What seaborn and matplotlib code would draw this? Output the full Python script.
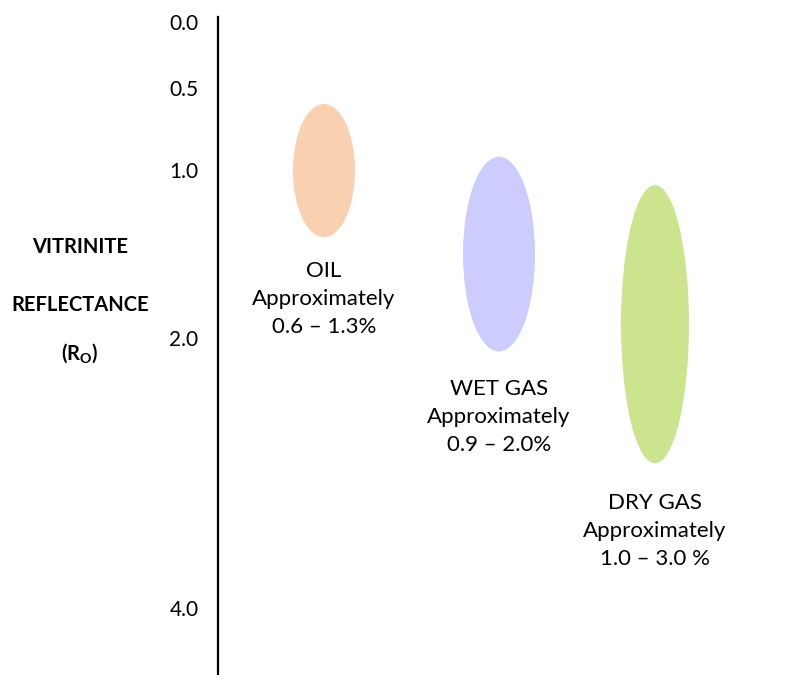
import numpy as np
import seaborn as sns
from matplotlib import pyplot as plt
from matplotlib.patches import Ellipse

# maturity windows, vitrinite reflectance Ro (%)
zones = ["OIL", "WET GAS", "DRY GAS"]
ro_top = [0.6, 0.92, 1.09]
ro_bottom = [1.4, 2.1, 2.93]
range_labels = ["0.6 – 1.3%", "0.9 – 2.0%", "1.0 – 3.0 %"]
zone_colors = ["#F9D0B0", "#CCCCFF", "#CCE48D"]

# y ticks, the diagram spaces them unevenly
ro_ticks = [0.0, 0.5, 1.0, 2.0, 4.0]
tick_labels = ["0.0", "0.5", "1.0", "2.0", "4.0"]

# scale knots: Ro value -> depth on the page
ro_knots = [-0.2, 0.0, 0.5, 1.0, 2.0, 4.0, 5.0]
depth_knots = [-26.4, 0.0, 66.0, 148.5, 316.5, 586.0, 720.75]

# layout of the ovals and their captions across the page
x_centers = [324, 499, 655]
widths = [62, 72, 68]
caption_gap = [62, 66, 68]


def ro_to_depth(v):
    return np.interp(v, ro_knots, depth_knots)


def depth_to_ro(d):
    return np.interp(d, depth_knots, ro_knots)


sns.set_theme(style="white")
plt.rcParams['font.family'] = ['Lato', 'DejaVu Sans']
plt.rcParams['mathtext.fontset'] = 'custom'
plt.rcParams['mathtext.rm'] = 'Lato'
plt.rcParams['mathtext.bf'] = 'Lato:bold'

fig = plt.figure(figsize=(7.97, 6.75), dpi=100)
ax = fig.add_axes([0, 0, 1, 1])
ax.set_yscale('function', functions=(ro_to_depth, depth_to_ro))
ax.set_xlim(0, 797)
ax.set_ylim(depth_to_ro(653.5), depth_to_ro(-21.5))

sns.despine(ax=ax, top=True, right=True, bottom=True)
ax.spines['left'].set_position(('data', 218))
ax.spines['left'].set_color('black')
ax.spines['left'].set_linewidth(1.6)
ax.spines['left'].set_bounds(depth_to_ro(653.5), depth_to_ro(-4.5))

ax.set_xticks([])
ax.set_yticks(ro_ticks)
ax.set_yticklabels(tick_labels)
ax.tick_params(axis='y', length=0, pad=14, labelsize=15, labelcolor='black')
ax.grid(False)

# ovals are drawn in scaled space so they stay symmetric on the page
scale = ax.yaxis.get_transform()
page = ax.transLimits + ax.transAxes
for i, zone in enumerate(zones):
    top, bot = scale.transform(np.array([ro_top[i], ro_bottom[i]]))
    ax.add_patch(Ellipse((x_centers[i], (top + bot) / 2), widths[i], bot - top,
                         transform=page, facecolor=zone_colors[i], edgecolor='none'))
    ax.annotate(f"{zone}\nApproximately\n{range_labels[i]}",
                xy=(x_centers[i], ro_bottom[i]), xytext=(0, -caption_gap[i]),
                textcoords='offset pixels', ha='center', va='center',
                fontsize=16, linespacing=1.5, color='black')

ax.text(0.1, 1 - 247 / 675, "VITRINITE", transform=ax.transAxes,
        ha='center', va='center', fontsize=14.5, fontweight='bold', color='black')
ax.text(0.1, 1 - 305 / 675, "REFLECTANCE", transform=ax.transAxes,
        ha='center', va='center', fontsize=14.5, fontweight='bold', color='black')
ax.text(0.1, 1 - 353 / 675, r"(R$_{\mathbf{O}}$)", transform=ax.transAxes,
        ha='center', va='center', fontsize=14.5, fontweight='bold', color='black')

fig.savefig("out.png", dpi=100)
